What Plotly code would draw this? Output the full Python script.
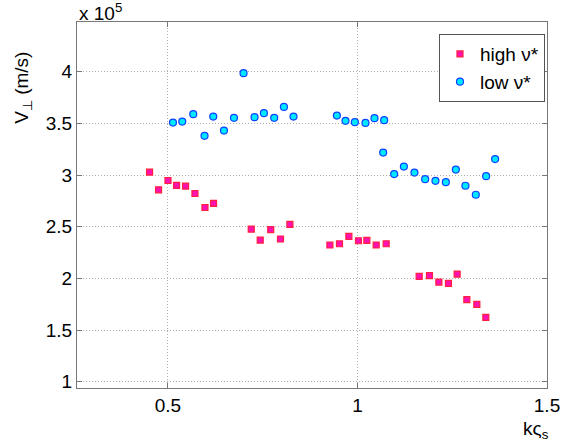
import plotly.graph_objects as go

# Values in units of 1e5 m/s (axis shows "x 10^5")
high_k = [0.4515, 0.4752, 0.5000, 0.5227, 0.5464, 0.5712, 0.5976, 0.6203,
          0.7197, 0.7434, 0.7711, 0.7969, 0.8217,
          0.9272, 0.9525, 0.9773, 1.0026, 1.0248, 1.0493, 1.0757,
          1.1627, 1.1899, 1.2147, 1.2400, 1.2629, 1.2885, 1.3149, 1.3386]
high_v = [3.028, 2.857, 2.947, 2.899, 2.893, 2.821, 2.686, 2.725,
          2.477, 2.371, 2.471, 2.381, 2.522,
          2.323, 2.335, 2.406, 2.364, 2.367, 2.323, 2.335,
          2.019, 2.026, 1.965, 1.952, 2.042, 1.794, 1.749, 1.623]

low_k = [0.5132, 0.5377, 0.5667, 0.5965, 0.6195, 0.6477, 0.6741, 0.6994,
         0.7284, 0.7532, 0.7803, 0.8059, 0.8312,
         0.9457, 0.9684, 0.9931, 1.0211, 1.0448, 1.0704,
         1.0678, 1.0968, 1.1224, 1.1503, 1.1785, 1.2057, 1.2331, 1.2595,
         1.2848, 1.3122, 1.3394, 1.3631]
low_v = [3.507, 3.517, 3.588, 3.379, 3.565, 3.430, 3.553, 3.985,
         3.559, 3.598, 3.553, 3.659, 3.565,
         3.575, 3.524, 3.511, 3.504, 3.550, 3.530,
         3.217, 3.009, 3.082, 3.024, 2.960, 2.944, 2.931, 3.053,
         2.896, 2.809, 2.989, 3.154]

x_ticks = [0.5, 1, 1.5]
x_ticklabels = ["0.5", "1", "1.5"]
y_ticks = [1, 1.5, 2, 2.5, 3, 3.5, 4]
y_ticklabels = ["1", "1.5", "2", "2.5", "3", "3.5", "4"]

FONT = "Liberation Sans, Arial, sans-serif"

fig = go.Figure()
fig.add_trace(go.Scatter(
    x=high_k, y=high_v, mode="markers", name="high ν*",
    marker=dict(symbol="square", size=6, color="#ff10b0",
                line=dict(color="#ff2040", width=1.2)),
))
fig.add_trace(go.Scatter(
    x=low_k, y=low_v, mode="markers", name="low ν*",
    marker=dict(symbol="circle", size=7, color="#00e8ff",
                line=dict(color="#1040ff", width=1.2)),
))

axis_common = dict(
    showline=True, linecolor="#777777", linewidth=1, mirror="ticks",
    ticks="inside", ticklen=5, tickcolor="#777777",
    showgrid=True, gridcolor="#b0b0b0", griddash="1px,2px", gridwidth=1,
    zeroline=False, automargin=False,
    tickfont=dict(family=FONT, size=19, color="black"),
)

fig.update_layout(
    width=565, height=446,
    margin=dict(l=77, r=18, t=22, b=58),
    paper_bgcolor="white", plot_bgcolor="white",
    font=dict(family=FONT, size=19, color="black"),
    showlegend=True,
    legend=dict(x=0.9957, y=0.967, xanchor="right", yanchor="top",
                bordercolor="#555555", borderwidth=1, bgcolor="white",
                font=dict(family=FONT, size=19), itemwidth=30,
                tracegroupgap=0),
    xaxis=dict(range=[0.26, 1.5], tickvals=x_ticks, ticktext=x_ticklabels,
               **axis_common),
    yaxis=dict(range=[0.94, 4.48], tickvals=y_ticks, ticktext=y_ticklabels,
               **axis_common),
    annotations=[
        dict(text="x 10<sup>5</sup>", xref="paper", yref="paper",
             x=0.0, y=1.0, xanchor="left", yanchor="bottom",
             showarrow=False, font=dict(family=FONT, size=19), yshift=-4),
        dict(text="V<sub>⊥</sub> (m/s)", xref="paper", yref="paper",
             x=-0.115, y=0.82, xanchor="center", yanchor="middle",
             textangle=-90, showarrow=False, font=dict(family=FONT, size=19)),
        dict(text="kς<sub>s</sub>", xref="paper", yref="paper",
             x=0.9766, y=-0.115, xanchor="center", yanchor="middle",
             showarrow=False, font=dict(family=FONT, size=19)),
    ],
)

fig.write_html("out.html", config={"displayModeBar": False},
               post_script="document.body.style.margin='0';document.body.style.overflow='hidden';")
